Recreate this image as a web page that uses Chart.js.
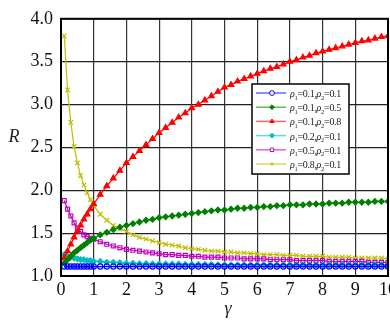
<!DOCTYPE html>
<html>
<head>
<meta charset="UTF-8" />
<title>R vs gamma</title>
<script src="https://cdn.jsdelivr.net/npm/chart.js"></script>
<style>
  body { margin: 0; background: #fff; overflow: hidden; width: 390px; height: 322px; }
  #wrap { position: relative; width: 400px; height: 322px; }
</style>
</head>
<body>
<div id="wrap"><canvas id="c"></canvas></div>
<script>
const gamma = [0.1,0.2,0.3,0.4,0.5,0.6,0.7,0.8,0.9,1.0,
  1.2,1.4,1.6,1.8,2.0, 2.2,2.4,2.6,2.8,3.0, 3.2,3.4,3.6,3.8,4.0,
  4.2,4.4,4.6,4.8,5.0, 5.2,5.4,5.6,5.8,6.0, 6.2,6.4,6.6,6.8,7.0,
  7.2,7.4,7.6,7.8,8.0, 8.2,8.4,8.6,8.8,9.0, 9.2,9.4,9.6,9.8,10.0];

const rho1 = [0.1, 0.1, 0.1, 0.2, 0.5, 0.8];
const rho2 = [0.1, 0.5, 0.8, 0.1, 0.1, 0.1];

const rBlue = [1.11,1.11,1.11,1.11,1.11,1.11,1.11,1.11,1.11,1.11,
  1.11,1.11,1.11,1.11,1.11, 1.11,1.11,1.11,1.11,1.11, 1.11,1.11,1.11,1.11,1.11,
  1.11,1.11,1.11,1.11,1.11, 1.11,1.11,1.11,1.11,1.11, 1.11,1.11,1.11,1.11,1.11,
  1.11,1.11,1.11,1.11,1.11, 1.11,1.11,1.11,1.11,1.11, 1.11,1.11,1.11,1.11,1.11];

const rGreen = [1.15,1.19,1.23,1.27,1.30,1.33,1.36,1.39,1.42,1.44,
  1.48,1.51,1.54,1.57,1.59, 1.61,1.63,1.65,1.66,1.68, 1.69,1.70,1.71,1.72,1.73,
  1.74,1.75,1.76,1.77,1.77, 1.78,1.79,1.79,1.80,1.80, 1.81,1.81,1.82,1.82,1.83,
  1.83,1.83,1.84,1.84,1.84, 1.85,1.85,1.85,1.86,1.86, 1.86,1.86,1.87,1.87,1.87];

const rRed = [1.21,1.29,1.37,1.45,1.52,1.59,1.66,1.72,1.78,1.84,
  1.95,2.05,2.14,2.23,2.32, 2.39,2.46,2.53,2.60,2.67, 2.73,2.79,2.85,2.90,2.96,
  3.00,3.05,3.10,3.15,3.20, 3.23,3.27,3.30,3.33,3.36, 3.39,3.42,3.44,3.47,3.50,
  3.52,3.55,3.57,3.60,3.62, 3.64,3.66,3.68,3.70,3.72, 3.74,3.75,3.77,3.79,3.80];

const rCyan = [1.25,1.23,1.22,1.21,1.20,1.19,1.19,1.18,1.18,1.17,
  1.17,1.16,1.16,1.155,1.15, 1.15,1.145,1.145,1.14,1.14, 1.14,1.14,1.14,1.135,1.135,
  1.135,1.135,1.135,1.13,1.13, 1.13,1.13,1.13,1.13,1.13, 1.13,1.13,1.13,1.13,1.13,
  1.13,1.13,1.13,1.13,1.13, 1.13,1.13,1.13,1.13,1.13, 1.13,1.13,1.13,1.13,1.13];

const rMagenta = [1.88,1.78,1.70,1.62,1.56,1.52,1.48,1.46,1.44,1.43,
  1.40,1.37,1.35,1.33,1.31, 1.30,1.29,1.28,1.27,1.26, 1.25,1.25,1.24,1.24,1.23,
  1.23,1.22,1.22,1.22,1.21, 1.21,1.21,1.20,1.20,1.20, 1.20,1.19,1.19,1.19,1.19,
  1.18,1.18,1.18,1.18,1.18, 1.17,1.17,1.17,1.17,1.17, 1.17,1.16,1.16,1.16,1.16];

const rYellow = [3.80,3.17,2.79,2.51,2.32,2.17,2.06,1.97,1.89,1.82,
  1.72,1.65,1.59,1.55,1.52, 1.48,1.45,1.43,1.41,1.39, 1.37,1.36,1.35,1.33,1.32,
  1.31,1.30,1.29,1.29,1.28, 1.28,1.27,1.27,1.26,1.26, 1.25,1.25,1.25,1.24,1.24,
  1.24,1.23,1.23,1.23,1.23, 1.22,1.22,1.22,1.22,1.21, 1.21,1.21,1.21,1.21,1.20];

const series = [rBlue, rGreen, rRed, rCyan, rMagenta, rYellow];
const colors = ['#0000ff', '#008000', '#ff0000', '#00bfbf', '#bf00bf', '#bfbf00'];
const styles = ['circle', 'rectRot', 'triangle', 'rectRot', 'rect', 'crossRot'];
const filled = [false, true, true, true, false, false];
const sizes = [2.6, 2.8, 3.2, 2.8, 2.8, 3.2];

const serif = "'Liberation Serif', 'DejaVu Serif', serif";

const datasets = series.map((s, i) => ({
  label: 'ρ₁=' + rho1[i] + ',ρ₂=' + rho2[i],
  data: s.map((v, k) => ({ x: gamma[k], y: v })),
  borderColor: colors[i],
  borderWidth: 1.2,
  pointStyle: styles[i],
  pointRadius: sizes[i],
  pointBorderWidth: 1.2,
  pointBorderColor: colors[i],
  pointBackgroundColor: filled[i] ? colors[i] : 'rgba(255,255,255,0)',
  tension: 0
}));

// frame, axis titles and the boxed legend with subscripts
const extras = {
  id: 'extras',
  afterDraw(chart) {
    const ctx = chart.ctx;
    const a = chart.chartArea;
    ctx.save();
    ctx.strokeStyle = '#000';
    ctx.lineWidth = 2;
    ctx.strokeRect(a.left, a.top, a.right - a.left, a.bottom - a.top);

    ctx.fillStyle = '#222';
    ctx.font = 'italic 18px ' + serif;
    ctx.textAlign = 'center';
    ctx.textBaseline = 'middle';
    ctx.fillText('R', 14, 137);
    ctx.fillText('γ', 228, 309);

    // legend
    const bx = 252, by = 84, bw = 97, bh = 90;
    ctx.fillStyle = '#fff';
    ctx.fillRect(bx, by, bw, bh);
    ctx.strokeStyle = '#000';
    ctx.lineWidth = 1.5;
    ctx.strokeRect(bx, by, bw, bh);
    datasets.forEach((d, i) => {
      const y = by + 9 + i * 14.2;
      ctx.globalAlpha = 0.6;
      ctx.strokeStyle = colors[i];
      ctx.lineWidth = 1.5;
      ctx.beginPath();
      ctx.moveTo(bx + 4, y);
      ctx.lineTo(bx + 34, y);
      ctx.stroke();
      ctx.globalAlpha = 1;
      ctx.fillStyle = filled[i] ? colors[i] : '#fff';
      ctx.strokeStyle = colors[i];
      ctx.lineWidth = 1;
      Chart.helpers.drawPoint(ctx, {
        pointStyle: styles[i], radius: 2.4, borderWidth: 1, rotation: 0
      }, bx + 20, y);

      let x = bx + 38;
      ctx.fillStyle = '#222';
      ctx.textAlign = 'left';
      ctx.textBaseline = 'alphabetic';
      ctx.letterSpacing = '-0.3px';
      const base = y + 4;
      const parts = [
        ['ρ', 0, 'italic 10px '], ['1', 2.5, '6.5px '], ['=' + rho1[i].toFixed(1) + ',', 0, '10px '],
        ['ρ', 0, 'italic 10px '], ['2', 2.5, '6.5px '], ['=' + rho2[i].toFixed(1), 0, '10px ']
      ];
      parts.forEach(p => {
        ctx.font = p[2] + serif;
        ctx.fillText(p[0], x, base + p[1]);
        x += ctx.measureText(p[0]).width;
      });
    });
    ctx.restore();
  }
};

new Chart(document.getElementById('c'), {
  type: 'line',
  data: { datasets: datasets },
  options: {
    responsive: true,
    maintainAspectRatio: false,
    animation: false,
    layout: { padding: { top: 11, right: 12, bottom: 0, left: 0 } },
    plugins: {
      legend: { display: false },
      tooltip: { enabled: false }
    },
    scales: {
      x: {
        type: 'linear',
        min: 0,
        max: 10,
        ticks: {
          stepSize: 1,
          color: '#111',
          padding: 3,
          font: { family: serif, size: 18 },
          maxRotation: 0
        },
        grid: { color: '#333', lineWidth: 1.2, drawTicks: false },
        border: { color: '#000', width: 2 },
        afterFit: s => { s.height = 46; }
      },
      y: {
        min: 1,
        max: 4,
        ticks: {
          stepSize: 0.5,
          color: '#111',
          padding: 8,
          font: { family: serif, size: 18 },
          callback: v => v.toFixed(1)
        },
        grid: { color: '#222', lineWidth: 1.2, drawTicks: false },
        border: { color: '#000', width: 2 },
        afterFit: s => { s.width = 61; }
      }
    }
  },
  plugins: [extras]
});
</script>
</body>
</html>
